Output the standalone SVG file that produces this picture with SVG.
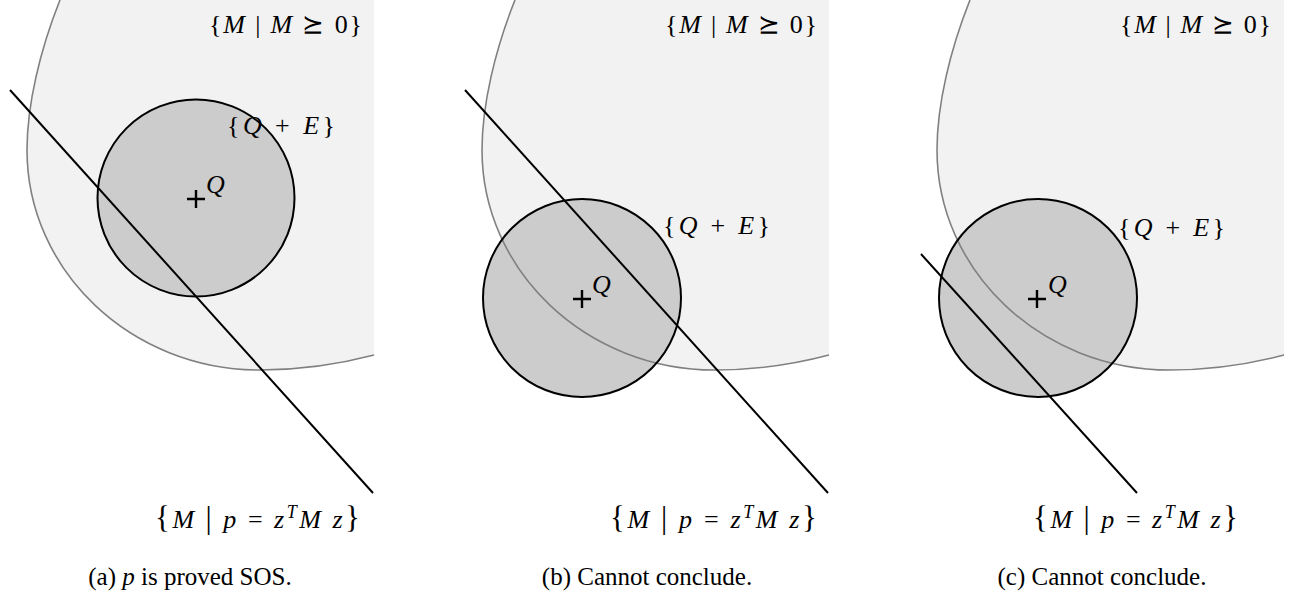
<svg xmlns="http://www.w3.org/2000/svg" xmlns:xlink="http://www.w3.org/1999/xlink" width="1289" height="602" viewBox="0 0 1289 602">
<style>
.rfill{fill:#f2f2f2;stroke:none}
.rline{fill:none;stroke:#808080;stroke-width:1.6}
.ball{fill:#cccccc;stroke:none}
.ballo{fill:none;stroke:#000;stroke-width:2}
.hyper{stroke:#000;stroke-width:2;fill:none}
.plus{stroke:#000;stroke-width:2.4;fill:none}
.m{font-family:'Liberation Serif','Times New Roman','DejaVu Serif',serif;font-size:26px;fill:#000}
.i{font-style:italic}
.big{font-size:31px;font-style:normal}
.cap{font-family:'Liberation Serif','Times New Roman',serif;font-size:25px;fill:#000;text-anchor:middle}
</style>
<defs>
<path id="rf" d="M60,0 C40,50 27,105 27,150 C27,271 131,370 260,370 C300,370 340,364 374,355 L374,0 Z"/>
<path id="rs" d="M60,0 C40,50 27,105 27,150 C27,271 131,370 260,370 C300,370 340,364 374,355"/>
<path id="pl" d="M-9,0 H9 M0,-9 V9"/>
</defs>
<rect width="1289" height="602" fill="#fff"/>

<g id="panel-a">
<use xlink:href="#rf" class="rfill"/>
<circle class="ball" cx="196" cy="198" r="98.5"/>
<use xlink:href="#rs" class="rline"/>
<circle class="ballo" cx="196" cy="198" r="98.5"/>
<use xlink:href="#pl" class="plus" x="196" y="199"/>
<text class="m i" x="206" y="193" font-size="25">Q</text>
<text class="m" x="209" y="33" textLength="153" lengthAdjust="spacing">{<tspan class="i">M</tspan> | <tspan class="i">M</tspan> ⪰ 0}</text>
<text class="m" x="227" y="134" textLength="108" lengthAdjust="spacing">{<tspan class="i">Q</tspan> + <tspan class="i">E</tspan>}</text>
<text class="m" x="155" y="528" textLength="205" lengthAdjust="spacing"><tspan class="big">{</tspan><tspan class="i">M</tspan> <tspan class="big">|</tspan> <tspan class="i">p</tspan> = <tspan class="i">z</tspan><tspan class="i" font-size="18" dy="-10">T</tspan><tspan class="i" dy="10">M</tspan> <tspan class="i">z</tspan><tspan class="big">}</tspan></text>
<text class="cap" x="190" y="585">(a) <tspan class="i">p</tspan> is proved SOS.</text>
</g>

<g id="panel-b">
<use xlink:href="#rf" class="rfill" x="455"/>
<circle class="ball" cx="582" cy="298" r="99"/>
<use xlink:href="#rs" class="rline" x="455"/>
<circle class="ballo" cx="582" cy="298" r="99"/>
<use xlink:href="#pl" class="plus" x="582" y="299"/>
<text class="m i" x="592" y="293" font-size="25">Q</text>
<text class="m" x="665" y="33" textLength="152" lengthAdjust="spacing">{<tspan class="i">M</tspan> | <tspan class="i">M</tspan> ⪰ 0}</text>
<text class="m" x="663" y="234" textLength="107" lengthAdjust="spacing">{<tspan class="i">Q</tspan> + <tspan class="i">E</tspan>}</text>
<text class="m" x="610" y="528" textLength="207" lengthAdjust="spacing"><tspan class="big">{</tspan><tspan class="i">M</tspan> <tspan class="big">|</tspan> <tspan class="i">p</tspan> = <tspan class="i">z</tspan><tspan class="i" font-size="18" dy="-10">T</tspan><tspan class="i" dy="10">M</tspan> <tspan class="i">z</tspan><tspan class="big">}</tspan></text>
<text class="cap" x="647" y="585">(b) Cannot conclude.</text>
</g>

<g id="panel-c">
<use xlink:href="#rf" class="rfill" x="910"/>
<circle class="ball" cx="1038" cy="298" r="99"/>
<use xlink:href="#rs" class="rline" x="910"/>
<circle class="ballo" cx="1038" cy="298" r="99"/>
<use xlink:href="#pl" class="plus" x="1037" y="299"/>
<text class="m i" x="1048" y="293" font-size="25">Q</text>
<text class="m" x="1120" y="33" textLength="151" lengthAdjust="spacing">{<tspan class="i">M</tspan> | <tspan class="i">M</tspan> ⪰ 0}</text>
<text class="m" x="1118" y="236" textLength="107" lengthAdjust="spacing">{<tspan class="i">Q</tspan> + <tspan class="i">E</tspan>}</text>
<text class="m" x="1033" y="528" textLength="205" lengthAdjust="spacing"><tspan class="big">{</tspan><tspan class="i">M</tspan> <tspan class="big">|</tspan> <tspan class="i">p</tspan> = <tspan class="i">z</tspan><tspan class="i" font-size="18" dy="-10">T</tspan><tspan class="i" dy="10">M</tspan> <tspan class="i">z</tspan><tspan class="big">}</tspan></text>
<text class="cap" x="1102" y="585">(c) Cannot conclude.</text>
</g>

<g id="connectors">
<line class="hyper" x1="10" y1="90" x2="373" y2="493"/>
<line class="hyper" x1="465" y1="90" x2="828" y2="493"/>
<line class="hyper" x1="921" y1="254" x2="1137" y2="493"/>
</g>
</svg>
